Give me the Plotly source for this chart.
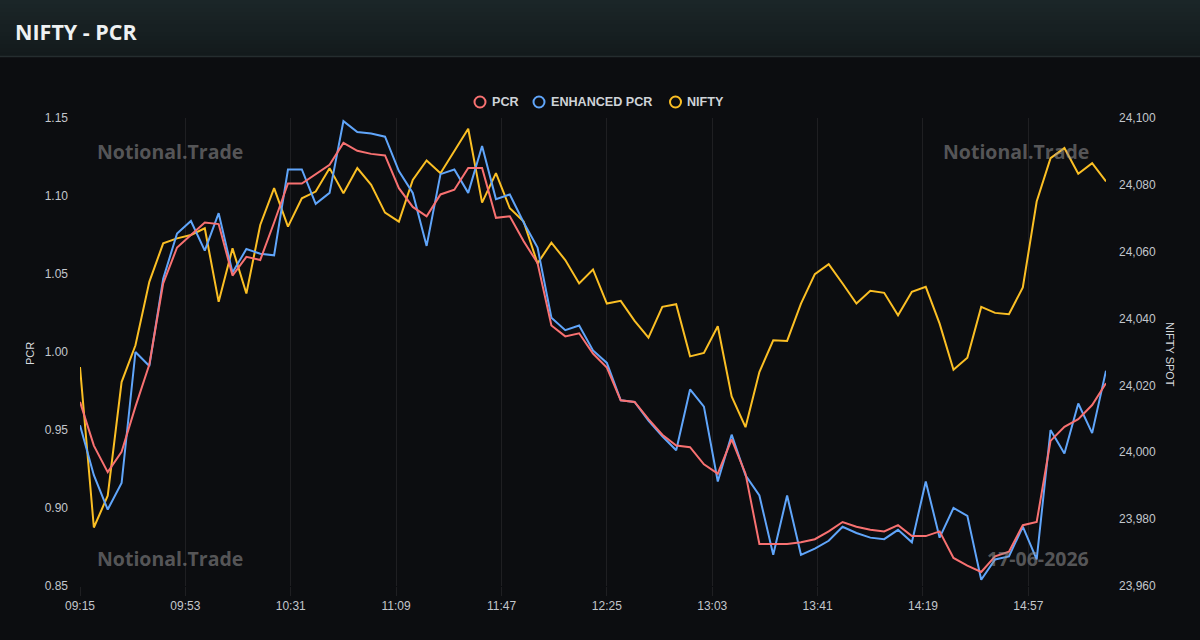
import plotly.graph_objects as go

times = ["09:15", "09:20", "09:25", "09:30", "09:35", "09:40", "09:45", "09:50", "09:55", "10:00",
         "10:05", "10:10", "10:15", "10:20", "10:25", "10:30", "10:35", "10:40", "10:45", "10:50",
         "10:55", "11:00", "11:05", "11:10", "11:15", "11:20", "11:25", "11:30", "11:35", "11:40",
         "11:45", "11:50", "11:55", "12:00", "12:05", "12:10", "12:15", "12:20", "12:25", "12:30",
         "12:35", "12:40", "12:45", "12:50", "12:55", "13:00", "13:05", "13:10", "13:15", "13:20",
         "13:25", "13:30", "13:35", "13:40", "13:45", "13:50", "13:55", "14:00", "14:05", "14:10",
         "14:15", "14:20", "14:25", "14:30", "14:35", "14:40", "14:45", "14:50", "14:55", "15:00",
         "15:05", "15:10", "15:15", "15:20", "15:25"]

pcr = [0.968, 0.940, 0.923, 0.936, 0.965, 0.992, 1.044, 1.067, 1.075, 1.083,
       1.082, 1.049, 1.061, 1.059, 1.083, 1.108, 1.108, 1.114, 1.120, 1.134,
       1.129, 1.127, 1.126, 1.105, 1.093, 1.087, 1.101, 1.104, 1.118, 1.118,
       1.086, 1.087, 1.071, 1.057, 1.017, 1.010, 1.012, 0.999, 0.990, 0.969,
       0.968, 0.957, 0.947, 0.940, 0.939, 0.928, 0.922, 0.944, 0.922, 0.877,
       0.877, 0.877, 0.878, 0.880, 0.885, 0.891, 0.888, 0.886, 0.885, 0.889,
       0.882, 0.882, 0.885, 0.868, 0.863, 0.859, 0.869, 0.872, 0.889, 0.891,
       0.943, 0.952, 0.957, 0.966, 0.980]

enhanced_pcr = [0.953, 0.921, 0.899, 0.916, 1.000, 0.991, 1.047, 1.076, 1.084, 1.065,
                1.089, 1.051, 1.066, 1.063, 1.062, 1.117, 1.117, 1.095, 1.102, 1.148,
                1.141, 1.140, 1.138, 1.116, 1.102, 1.068, 1.114, 1.117, 1.102, 1.132,
                1.098, 1.101, 1.083, 1.067, 1.022, 1.014, 1.017, 1.001, 0.993, 0.969,
                0.968, 0.956, 0.946, 0.937, 0.976, 0.965, 0.917, 0.947, 0.921, 0.908,
                0.870, 0.908, 0.870, 0.874, 0.879, 0.888, 0.884, 0.881, 0.880, 0.886,
                0.878, 0.917, 0.881, 0.900, 0.895, 0.854, 0.867, 0.869, 0.888, 0.867,
                0.950, 0.935, 0.967, 0.948, 0.988]

nifty = [24025.5, 23977.5, 23987.0, 24021.0, 24032.0, 24051.0, 24062.5, 24064.0, 24065.0, 24067.0,
         24045.0, 24061.0, 24047.5, 24068.0, 24079.0, 24067.5, 24076.0, 24078.0, 24085.0, 24077.5,
         24085.0, 24080.0, 24071.7, 24069.0, 24081.5, 24087.3, 24083.5, 24090.0, 24096.8, 24074.7,
         24083.5, 24073.0, 24069.0, 24056.5, 24062.7, 24057.5, 24050.5, 24054.7, 24044.5, 24045.3,
         24039.3, 24034.3, 24043.5, 24044.3, 24028.7, 24029.7, 24037.7, 24016.7, 24007.5, 24024.0,
         24033.5, 24033.3, 24044.5, 24053.3, 24056.3, 24050.5, 24044.5, 24048.3, 24047.7, 24041.0,
         24048.0, 24049.5, 24038.5, 24024.7, 24028.3, 24043.5, 24041.7, 24041.3, 24049.3, 24075.0,
         24088.0, 24091.0, 24083.3, 24086.5, 24081.0]

x_tick_labels = ["09:15", "09:53", "10:31", "11:09", "11:47", "12:25", "13:03", "13:41", "14:19", "14:57"]
series_names = ["PCR", "ENHANCED PCR", "NIFTY"]
series_colors = ["#f87171", "#60a5fa", "#fbbf24"]
watermark = "Notional.Trade"
date_label = "17-06-2026"
title = "NIFTY - PCR"

DAY = "2026-06-17 "
xs = [DAY + t for t in times]
x_ticks = [DAY + t for t in x_tick_labels]

W, H = 1200, 640
L, R, T, B = 80, 94, 118, 54
PW, PH = W - L - R, H - T - B


def px(xp):
    return (xp - L) / PW


def py(yp):
    return (H - B - yp) / PH


BG = "#0c0d10"
TICK = "#c3c7cc"
GRID = "rgba(255,255,255,0.08)"

fig = go.Figure()

# NIFTY on the base axis (drawn underneath), PCR lines on the overlaying axis
fig.add_trace(go.Scatter(x=xs, y=nifty, mode="lines", name=series_names[2], yaxis="y",
                         line=dict(color=series_colors[2], width=2), showlegend=False))
fig.add_trace(go.Scatter(x=xs, y=enhanced_pcr, mode="lines", name=series_names[1], yaxis="y2",
                         line=dict(color=series_colors[1], width=2), showlegend=False))
fig.add_trace(go.Scatter(x=xs, y=pcr, mode="lines", name=series_names[0], yaxis="y2",
                         line=dict(color=series_colors[0], width=2), showlegend=False))

shapes = []
# header gradient
top_c = (0x1b, 0x26, 0x28)
bot_c = (0x13, 0x1a, 0x1c)
n = 14
for i in range(n):
    f = i / (n - 1)
    c = tuple(round(top_c[k] + (bot_c[k] - top_c[k]) * f) for k in range(3))
    shapes.append(dict(type="rect", xref="paper", yref="paper",
                       x0=px(0), x1=px(W), y0=py(4 * (i + 1)), y1=py(4 * i),
                       fillcolor="rgb(%d,%d,%d)" % c, line=dict(width=0), layer="below"))
shapes.append(dict(type="line", xref="paper", yref="paper", x0=px(0), x1=px(W),
                   y0=py(56.5), y1=py(56.5), line=dict(color="#252d2f", width=1.5)))

annotations = [
    dict(text="<b>" + title + "</b>", xref="paper", yref="paper", x=px(12.5), y=py(31),
         xanchor="left", yanchor="middle", showarrow=False,
         font=dict(family="Open Sans", size=21.5, color="#eef1f2")),
    dict(text="PCR", xref="paper", yref="paper", x=px(30), y=py(354), textangle=-90,
         xanchor="center", yanchor="middle", showarrow=False,
         font=dict(family="Liberation Sans", size=11, color="#d8dbdf")),
    dict(text="NIFTY SPOT", xref="paper", yref="paper", x=px(1170), y=py(354), textangle=90,
         xanchor="center", yanchor="middle", showarrow=False,
         font=dict(family="Liberation Sans", size=11, color="#d8dbdf")),
]
wm_font = dict(family="Open Sans", size=19.5, color="rgba(150,150,150,0.55)")
for (xx, yy, anc, txt) in [(95, 151, "left", watermark), (95, 558, "left", watermark),
                           (1091, 151, "right", watermark), (1091, 558, "right", date_label)]:
    annotations.append(dict(text="<b>" + txt + "</b>", xref="paper", yref="paper",
                            x=px(xx), y=py(yy), xanchor=anc, yanchor="middle",
                            showarrow=False, font=wm_font))

# legend: open circle + bold label per series
legend_circle_x = [480, 539, 675.5]
legend_text_x = [490, 549, 685]
LY = 102
rad = 5.5
for name, col, cx, tx in zip(series_names, series_colors, legend_circle_x, legend_text_x):
    shapes.append(dict(type="circle", xref="paper", yref="paper",
                       x0=px(cx - rad), x1=px(cx + rad), y0=py(LY + rad), y1=py(LY - rad),
                       line=dict(color=col, width=2), fillcolor="rgba(0,0,0,0)"))
    annotations.append(dict(text="<b>" + name + "</b>", xref="paper", yref="paper",
                            x=px(tx), y=py(LY), xanchor="left", yanchor="middle",
                            showarrow=False,
                            font=dict(family="Liberation Sans", size=12.6, color="#cfd3d8")))

fig.update_layout(
    width=W, height=H,
    margin=dict(l=L, r=R, t=T, b=B),
    paper_bgcolor=BG, plot_bgcolor=BG,
    font=dict(family="Liberation Sans", size=12, color=TICK),
    showlegend=False,
    xaxis=dict(type="date", range=[xs[0], xs[-1]], tickmode="array", tickvals=x_ticks,
               ticktext=x_tick_labels, showgrid=True, gridcolor=GRID, gridwidth=1,
               ticks="outside", ticklen=9, tickcolor=GRID, showline=False, zeroline=False,
               tickfont=dict(size=12, color=TICK)),
    yaxis=dict(side="right", range=[23960, 24100], tickmode="linear", tick0=23960, dtick=20,
               tickformat=",", showgrid=False, zeroline=False, showline=False,
               ticks="", ticklabelstandoff=12, tickfont=dict(size=12, color=TICK)),
    yaxis2=dict(side="left", overlaying="y", range=[0.85, 1.15], tickmode="linear", tick0=0.85,
                dtick=0.05, tickformat=".2f", showgrid=False, zeroline=False, showline=False,
                ticks="", ticklabelstandoff=11, tickfont=dict(size=12, color=TICK)),
    shapes=shapes,
    annotations=annotations,
)

fig.write_html("out.html")
